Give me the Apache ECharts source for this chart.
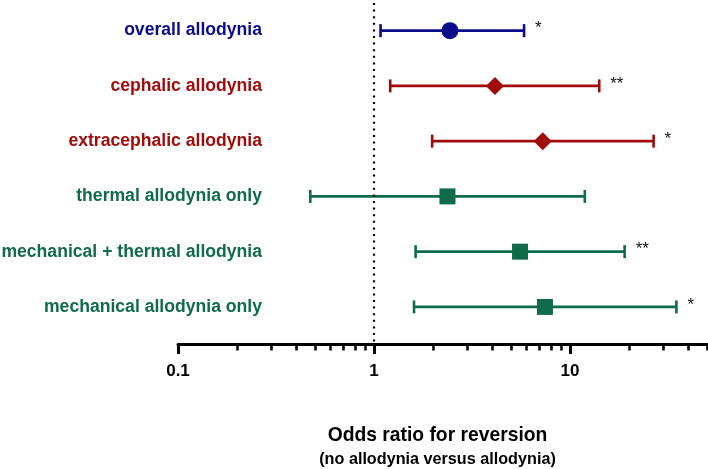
<!DOCTYPE html>
<html>
<head>
<meta charset="utf-8">
<script src="https://cdn.jsdelivr.net/npm/echarts@6/dist/echarts.min.js"></script>
<style>
html,body{margin:0;padding:0;background:#fff;}
#c{width:708px;height:469px;}
</style>
</head>
<body>
<div id="c"></div>
<script>
// ---- data ----
var categories = ['overall allodynia','cephalic allodynia','extracephalic allodynia','thermal allodynia only','mechanical + thermal allodynia','mechanical allodynia only'];
var oddsRatio = [2.44, 4.14, 7.26, 2.37, 5.56, 7.45];
var ciLow = [1.08, 1.21, 1.98, 0.473, 1.63, 1.60];
var ciHigh = [5.83, 14.1, 26.7, 11.9, 19.0, 34.9];
var significance = ['*', '**', '*', '', '**', '*'];
var groups = ['blue','red','red','green','green','green'];
var xTickLabels = [0.1, 1, 10];
var xMinorTicks = [0.2,0.3,0.4,0.5,0.6,0.7,0.8,0.9,2,3,4,5,6,7,8,9,20,30,40,50];

var FONT = 'Liberation Sans, Arial, sans-serif';
var colorMap = {blue:'#0b0b8c', red:'#a20b0b', green:'#0f6b4a'};
var symbolMap = {blue:'circle', red:'diamond', green:'rect'};
var sizeMap = {blue:[17,17], red:[18,18], green:[16,16]};

var rich = {};
categories.forEach(function(c,i){
  rich['c'+i] = {color: colorMap[groups[i]], fontSize:17.6, fontWeight:'bold', fontFamily:FONT};
});

var chart = echarts.init(document.getElementById('c'), null, {renderer:'canvas'});

var barData = categories.map(function(c,i){ return [ciLow[i], ciHigh[i], i+1, i]; });
var pointSeries = ['blue','red','green'].map(function(g){
  var d = [];
  categories.forEach(function(c,i){ if(groups[i]===g) d.push([oddsRatio[i], i+1]); });
  return {
    type:'scatter', data:d, symbol:symbolMap[g], symbolSize:sizeMap[g],
    itemStyle:{color:colorMap[g], opacity:1}, z:5, silent:true
  };
});

var option = {
  animation:false,
  backgroundColor:'#fff',
  grid:{left:178, right:1, top:3, bottom:124.5, containLabel:false, outerBoundsMode:'none'},
  xAxis:[{
    type:'log', logBase:10, min:0.1, max:50,
    axisLine:{show:true, lineStyle:{color:'#000', width:3}},
    axisTick:{show:true, length:9.5, lineStyle:{color:'#000', width:3}, customValues:xTickLabels},
    axisLabel:{show:true, customValues:xTickLabels, color:'#000', fontSize:17, fontWeight:'bold', fontFamily:FONT, margin:18,
      formatter:function(v){ return String(Math.round(v*10)/10); }},
    splitLine:{show:false},
    name:'{t|Odds ratio for reversion}\n{s|(no allodynia versus allodynia)}',
    nameLocation:'middle', nameGap:80,
    nameTextStyle:{padding:[0,10,0,0], rich:{
      t:{fontSize:19.3, fontWeight:'bold', color:'#000', fontFamily:FONT, lineHeight:23},
      s:{fontSize:16.2, fontWeight:'bold', color:'#000', fontFamily:FONT, lineHeight:24}
    }}
  },{
    type:'log', logBase:10, min:0.1, max:50, position:'bottom',
    axisLine:{show:false},
    axisTick:{show:true, length:6, lineStyle:{color:'#000', width:2.6}, customValues:xMinorTicks},
    axisLabel:{show:false}, splitLine:{show:false}
  }],
  yAxis:{
    type:'value', min:0.5, max:6.68, inverse:true,
    axisLine:{show:false}, axisTick:{show:false}, splitLine:{show:false},
    axisLabel:{show:true, customValues:[1,2,3,4,5,6], margin:-84, align:'right',
      formatter:function(v){ var i=Math.round(v)-1; return '{c'+i+'|'+categories[i]+'}'; },
      rich:rich}
  },
  series:[{
    type:'custom', xAxisIndex:0, data:barData, z:3, silent:true,
    renderItem:function(params, api){
      var i = api.value(3);
      var p1 = api.coord([api.value(0), api.value(2)]);
      var p2 = api.coord([api.value(1), api.value(2)]);
      var col = colorMap[groups[i]];
      var h = 6.5;
      var st = {stroke:col, lineWidth:2.6};
      return {type:'group', children:[
        {type:'line', shape:{x1:p1[0], y1:p1[1], x2:p2[0], y2:p2[1]}, style:st},
        {type:'line', shape:{x1:p1[0], y1:p1[1]-h, x2:p1[0], y2:p1[1]+h}, style:st},
        {type:'line', shape:{x1:p2[0], y1:p2[1]-h, x2:p2[0], y2:p2[1]+h}, style:st},
        {type:'text', x:p2[0]+11, y:p2[1]-2, style:{text:significance[i], fill:'#111', font:'17px Liberation Sans, Arial, sans-serif', textAlign:'left', textVerticalAlign:'middle'}}
      ]};
    },
    markLine:{
      silent:true, symbol:'none', label:{show:false},
      lineStyle:{color:'#000', width:2.2, type:[2,4.6]},
      data:[{xAxis:1}]
    }
  }].concat(pointSeries)
};
chart.setOption(option);
</script>
</body>
</html>
